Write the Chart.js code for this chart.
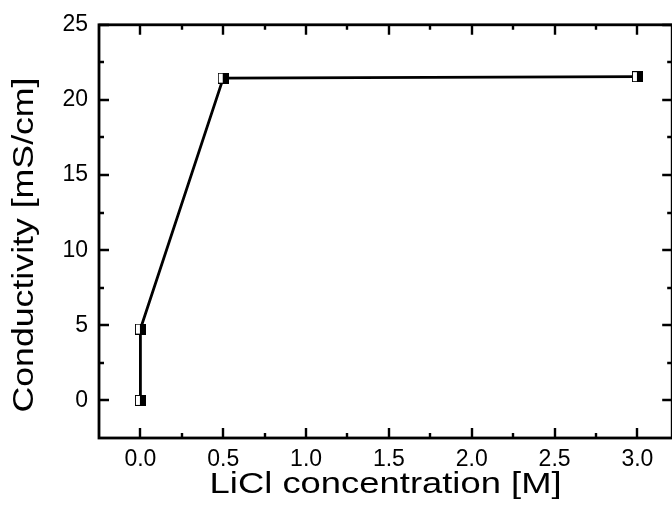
<!DOCTYPE html>
<html>
<head>
<meta charset="utf-8">
<script src="https://cdn.jsdelivr.net/npm/chart.js@4.4.0/dist/chart.umd.min.js"></script>
<style>
  html, body { margin: 0; padding: 0; background: #fff; overflow: hidden; }
  #wrap { width: 680px; height: 514px; }
</style>
</head>
<body>
<div id="wrap"><canvas id="chart" width="680" height="514"></canvas></div>
<script>
// data
const concentration = [0, 0, 0.5, 3.0];       // LiCl [M]
const conductivity = [0, 4.75, 21.45, 21.55];  // mS/cm
const xTickValues = [0, 0.5, 1.0, 1.5, 2.0, 2.5, 3.0];
const yTickValues = [0, 5, 10, 15, 20, 25];
const xTitle = "LiCl concentration [M]";
const yTitle = "Conductivity [mS/cm]";

const FONT = "'Liberation Sans', Arial, sans-serif";

// half open / half filled square marker
const makeMarker = () => {
  const c = document.createElement("canvas");
  c.width = 11;
  c.height = 11;
  const g = c.getContext("2d");
  g.fillStyle = "#000";
  g.fillRect(0, 0, 11, 11);
  g.fillStyle = "#fff";
  g.fillRect(1, 1, 4, 9);
  return c;
};

// frame, inward ticks on all four sides and the stretched axis titles
const framePlugin = {
  id: "frame",
  afterDraw(chart) {
    const ctx = chart.ctx;
    const a = chart.chartArea;
    const xs = chart.scales.x;
    const ys = chart.scales.y;
    ctx.save();
    ctx.strokeStyle = "#000";
    ctx.lineWidth = 2.8;
    ctx.strokeRect(a.left, a.top, a.right - a.left, a.bottom - a.top);

    const minors = (vals, min, max) => {
      const step = vals[1] - vals[0];
      const out = [];
      vals.forEach((v, i) => {
        if (v + step / 2 > min && v + step / 2 < max) out.push(v + step / 2);
        if (i === 0 && v - step / 2 > min) out.push(v - step / 2);
      });
      return out;
    };

    ctx.lineWidth = 2.4;
    ctx.beginPath();
    const xMaj = xs.ticks.map((t) => t.value);
    const yMaj = ys.ticks.map((t) => t.value);
    const drawX = (v, len) => {
      const p = Math.round(xs.getPixelForValue(v));
      ctx.moveTo(p, a.bottom);
      ctx.lineTo(p, a.bottom - len);
      ctx.moveTo(p, a.top);
      ctx.lineTo(p, a.top + len);
    };
    const drawY = (v, len) => {
      const p = Math.round(ys.getPixelForValue(v));
      ctx.moveTo(a.left, p);
      ctx.lineTo(a.left + len, p);
      ctx.moveTo(a.right, p);
      ctx.lineTo(a.right - len, p);
    };
    xMaj.forEach((v) => drawX(v, 10));
    minors(xMaj, xs.min, xs.max).forEach((v) => drawX(v, 5));
    yMaj.forEach((v) => drawY(v, 10));
    minors(yMaj, ys.min, ys.max).forEach((v) => drawY(v, 5));
    ctx.stroke();

    const stretched = (text, size, cx, cy, targetW, rotate) => {
      ctx.save();
      ctx.font = size + "px " + FONT;
      ctx.fillStyle = "#000";
      ctx.translate(cx, cy);
      if (rotate) ctx.rotate(-Math.PI / 2);
      const w = ctx.measureText(text).width;
      ctx.scale(targetW / w, 1);
      ctx.textAlign = "center";
      ctx.textBaseline = "middle";
      ctx.fillText(text, 0, 0);
      ctx.restore();
    };
    stretched(xTitle, 29, (a.left + a.right) / 2, 485, 352, false);
    stretched(yTitle, 30, 25, 245, 335, true);
    ctx.restore();
  },
};

const chart = new Chart(document.getElementById("chart"), {
  type: "line",
  data: {
    datasets: [
      {
        data: concentration.map((x, i) => ({ x: x, y: conductivity[i] })),
        borderColor: "#000",
        borderWidth: 2.8,
        tension: 0,
        pointStyle: makeMarker(),
        pointRadius: 5,
      },
    ],
  },
  options: {
    responsive: false,
    animation: false,
    devicePixelRatio: 1,
    layout: { padding: { top: 24, right: 7, left: 0, bottom: 0 } },
    plugins: { legend: { display: false }, tooltip: { enabled: false } },
    scales: {
      x: {
        type: "linear",
        min: -0.25,
        max: 3.21,
        afterBuildTicks: (s) => {
          s.ticks = xTickValues.map((v) => ({ value: v }));
        },
        afterFit: (s) => {
          s.height = 76;
        },
        grid: { display: false, drawTicks: false },
        border: { display: false },
        ticks: {
          padding: 8,
          color: "#000",
          font: { family: FONT, size: 23 },
          maxRotation: 0,
          autoSkip: false,
          callback: (v) => Number(v).toFixed(1),
        },
      },
      y: {
        type: "linear",
        min: -2.5,
        max: 25,
        afterBuildTicks: (s) => {
          s.ticks = yTickValues.map((v) => ({ value: v }));
        },
        afterFit: (s) => {
          s.width = 99;
        },
        grid: { display: false, drawTicks: false },
        border: { display: false },
        ticks: {
          padding: 11,
          color: "#000",
          font: { family: FONT, size: 23 },
          autoSkip: false,
          callback: (v) => String(v),
        },
      },
    },
  },
  plugins: [framePlugin],
});
</script>
</body>
</html>
